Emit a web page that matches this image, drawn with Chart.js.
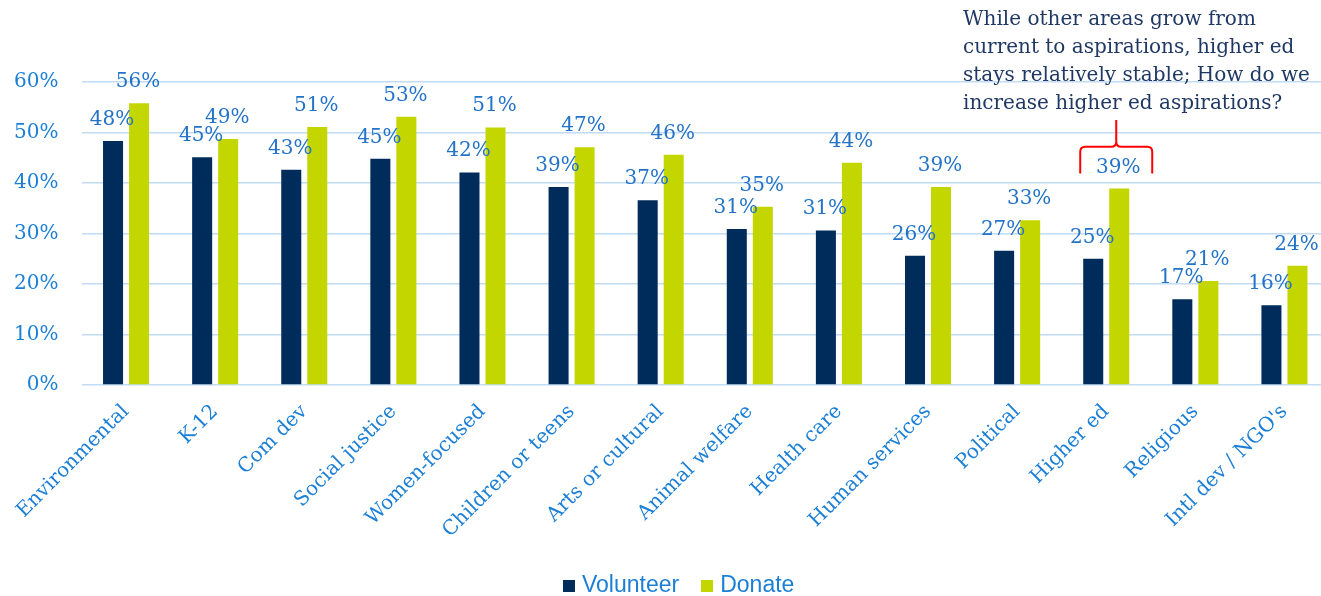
<!DOCTYPE html>
<html>
<head>
<meta charset="utf-8">
<script src="https://cdn.jsdelivr.net/npm/chart.js@4"></script>
<style>
  body { margin: 0; background: #fff; }
  #wrap { position: relative; width: 1321px; height: 596px; overflow: hidden; }
  #note {
    position: absolute; left: 963px; top: 4px;
    font: 20px "DejaVu Serif", serif; line-height: 28px; color: #1f3864;
    white-space: pre;
  }
  #legend {
    position: absolute; left: 563px; top: 571px;
    font: 23px "Liberation Sans", sans-serif; color: #1b7fd6;
    display: flex; align-items: center;
  }
  #legend span.box { display: inline-block; width: 12px; height: 12px; margin-right: 7px; margin-top: 2px; }
  #legend span.item { display: inline-flex; align-items: center; margin-right: 22px; }
</style>
</head>
<body>
<div id="wrap">
  <!-- plot runs a few pixels past the right edge, the wrapper clips it -->
  <canvas id="areasChart" width="1329" height="596"></canvas>
  <div id="note">While other areas grow from
current to aspirations, higher ed
stays relatively stable; How do we
increase higher ed aspirations?</div>
  <div id="legend"></div>
</div>
<script>
const categories = ['Environmental', 'K-12', 'Com dev', 'Social justice', 'Women-focused',
  'Children or teens', 'Arts or cultural', 'Animal welfare', 'Health care', 'Human services',
  'Political', 'Higher ed', 'Religious', "Intl dev / NGO's"];
const volunteer = [48.3, 45.1, 42.6, 44.8, 42.1, 39.2, 36.6, 30.9, 30.6, 25.6, 26.6, 25.0, 17.0, 15.8];
const donate = [55.8, 48.7, 51.1, 53.1, 51.0, 47.1, 45.6, 35.3, 44.0, 39.2, 32.6, 38.9, 20.6, 23.6];
const yTicks = [0, 10, 20, 30, 40, 50, 60];

const NAVY = '#002c5c';
const LIME = '#c4d600';
const LABEL_BLUE = '#2373c9';
const TICK_BLUE = '#1b7fd6';

// value labels sit a little above each bar
const barLabels = {
  id: 'barLabels',
  afterDatasetsDraw(chart) {
    const ctx = chart.ctx;
    ctx.save();
    ctx.font = '20px "DejaVu Serif", serif';
    ctx.fillStyle = LABEL_BLUE;
    ctx.textAlign = 'center';
    ctx.textBaseline = 'alphabetic';
    chart.data.datasets.forEach((ds, i) => {
      chart.getDatasetMeta(i).data.forEach((bar, j) => {
        ctx.fillText(Math.round(ds.data[j]) + '%', bar.x - 1, bar.y - 16);
      });
    });
    ctx.restore();
  }
};

// red brace over the Higher ed donate bar
const brace = {
  id: 'brace',
  afterDraw(chart) {
    const idx = categories.indexOf('Higher ed');
    const bar = chart.getDatasetMeta(1).data[idx];
    const y = chart.scales.y;
    const xc = bar.x - 3, half = 36, r = 5;
    const yb = y.getPixelForValue(41.9), ys = y.getPixelForValue(47.2), yt = y.getPixelForValue(52.5);
    const ctx = chart.ctx;
    ctx.save();
    ctx.strokeStyle = '#ff0000';
    ctx.lineWidth = 2;
    ctx.beginPath();
    ctx.moveTo(xc - half, yb);
    ctx.lineTo(xc - half, ys + r);
    ctx.quadraticCurveTo(xc - half, ys, xc - half + r, ys);
    ctx.lineTo(xc - r, ys);
    ctx.quadraticCurveTo(xc, ys, xc, ys - r);
    ctx.lineTo(xc, yt);
    ctx.moveTo(xc, ys - r);
    ctx.quadraticCurveTo(xc, ys, xc + r, ys);
    ctx.lineTo(xc + half - r, ys);
    ctx.quadraticCurveTo(xc + half, ys, xc + half, ys + r);
    ctx.lineTo(xc + half, yb);
    ctx.stroke();
    ctx.restore();
  }
};

const chart = new Chart(document.getElementById('areasChart'), {
  type: 'bar',
  data: {
    labels: categories,
    datasets: [
      { label: 'Volunteer', data: volunteer, backgroundColor: NAVY },
      { label: 'Donate', data: donate, backgroundColor: LIME }
    ]
  },
  options: {
    responsive: false,
    animation: false,
    layout: { padding: { top: 82, right: 0, left: 0, bottom: 0 } },
    datasets: { bar: { categoryPercentage: 0.584, barPercentage: 0.77 } },
    plugins: { legend: { display: false }, tooltip: { enabled: false } },
    scales: {
      x: {
        grid: { display: false },
        border: { display: false },
        afterFit: s => { s.height = 211; },
        ticks: {
          autoSkip: false, minRotation: 45, maxRotation: 45, padding: 7,
          color: TICK_BLUE, font: { family: '"DejaVu Serif", serif', size: 20 }
        }
      },
      y: {
        min: 0, max: 60,
        afterFit: s => { s.width = 81.5; },
        afterBuildTicks: s => { s.ticks = yTicks.map(v => ({ value: v })); },
        border: { display: false },
        grid: { color: '#c2dcf4', lineWidth: 1.6, drawTicks: false },
        ticks: {
          padding: 23, color: TICK_BLUE,
          font: { family: '"DejaVu Serif", serif', size: 20 },
          callback: v => v + '%'
        }
      }
    }
  },
  plugins: [barLabels, brace]
});

const legend = document.getElementById('legend');
chart.data.datasets.forEach(ds => {
  const item = document.createElement('span');
  item.className = 'item';
  item.innerHTML = `<span class="box" style="background:${ds.backgroundColor}"></span>${ds.label}`;
  legend.appendChild(item);
});
</script>
</body>
</html>
